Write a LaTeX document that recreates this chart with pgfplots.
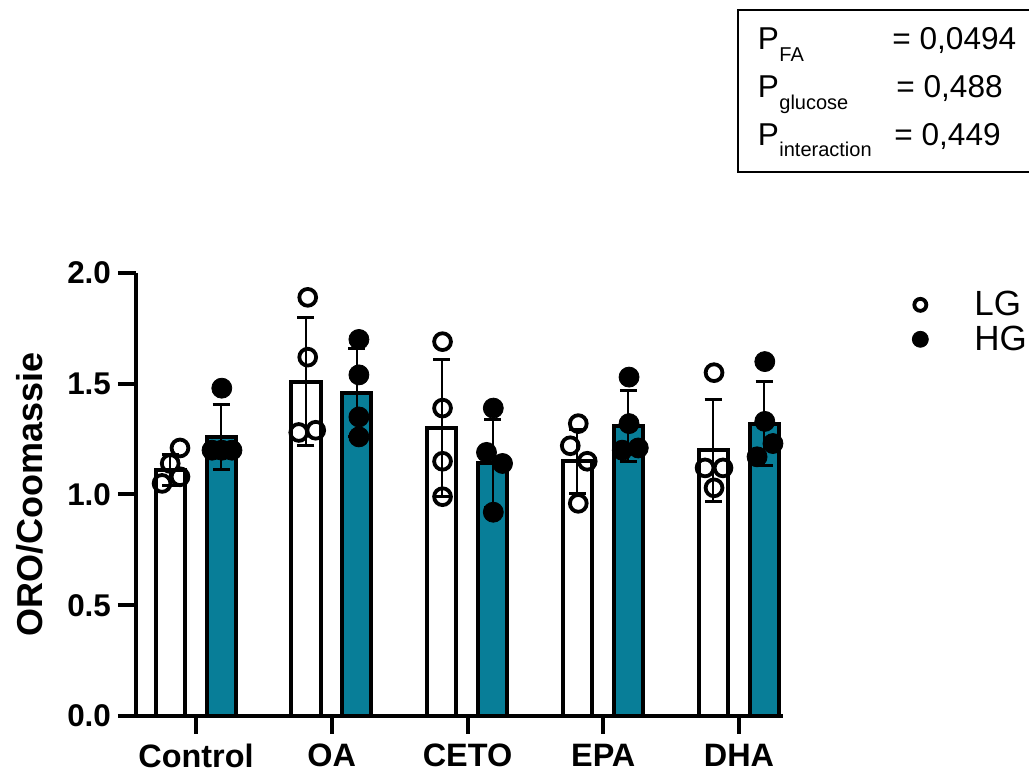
\documentclass[border=0pt]{standalone}
\usepackage{fontspec}
\setmainfont{Liberation Sans}
\usepackage{pgfplots}
\pgfplotsset{compat=1.18}
\definecolor{hgfill}{RGB}{8,126,152}
\begin{document}
\begin{tikzpicture}[x=1pt,y=1pt]
\useasboundingbox (0,0) rectangle (514.5,387);
\begin{axis}[
  at={(68pt,29pt)}, anchor=south west,
  scale only axis, width=323.5pt, height=221.5pt,
  xmin=-0.442, xmax=4.324, ymin=0, ymax=2,
  axis x line*=bottom, axis y line*=left,
  axis line style={line width=2pt},
  xtick={0,1,2,3,4}, xticklabels={Control,OA,CETO,EPA,DHA},
  ytick={0,0.5,1,1.5,2},
  yticklabel style={/pgf/number format/.cd,fixed,fixed zerofill,precision=1},
  /pgf/number format/assume math mode=true,
  tick align=outside, major tick length=9pt,
  tick style={line width=2pt, black},
  ticklabel style={font=\fontsize{15.7}{18}\selectfont\bfseries},
  xticklabel style={yshift=-1.5pt, font=\fontsize{16.2}{18}\selectfont\bfseries},
  ylabel={ORO/Coomassie},
  ylabel style={font=\fontsize{18}{20}\selectfont\bfseries, at={(axis description cs:-0.164,0.5)}, anchor=center},
  clip=false,
  legend style={draw=none, fill=none, at={(axis description cs:1.19,0.978)}, anchor=north west,
    font=\fontsize{17.5}{20}\selectfont, row sep=-0.5pt,
    /tikz/every odd column/.append style={column sep=21pt}},
  legend cell align=left,
]
% LG bars
\addplot[ybar, bar width=0.215, bar shift=0pt, fill=white, draw=black, line width=2pt, forget plot,
  error bars/.cd, y dir=both, y explicit,
  error bar style={line width=1pt, black},
  error mark options={rotate=90, mark size=4.25pt, line width=1.5pt, black}]
coordinates {
(-0.19,1.11) +- (0,0.07)
(0.81,1.51) +- (0,0.29)
(1.81,1.30) +- (0,0.31)
(2.81,1.15) +- (0,0.145)
(3.81,1.20) +- (0,0.23)
};
% HG bars
\addplot[ybar, bar width=0.215, bar shift=0pt, fill=hgfill, draw=black, line width=2pt, forget plot,
  error bars/.cd, y dir=both, y explicit,
  error bar style={line width=1pt, black},
  error mark options={rotate=90, mark size=4.25pt, line width=1.5pt, black}]
coordinates {
(0.185,1.26) +- (0,0.145)
(1.185,1.46) +- (0,0.20)
(2.185,1.14) +- (0,0.20)
(3.185,1.31) +- (0,0.16)
(4.185,1.32) +- (0,0.19)
};
% LG points
\addplot[only marks, mark=o, mark size=4.2pt, mark options={line width=1.9pt, draw=black},
  legend image post style={mark size=3pt, line width=1.8pt}]
coordinates {
(-0.118,1.21) (-0.19,1.14) (-0.25,1.05) (-0.118,1.08)
(0.823,1.89) (0.823,1.62) (0.757,1.28) (0.882,1.29)
(1.816,1.69) (1.816,1.39) (1.816,1.15) (1.816,0.99)
(2.816,1.32) (2.757,1.22) (2.882,1.15) (2.816,0.96)
(3.816,1.55) (3.75,1.12) (3.882,1.12) (3.816,1.03)
};
\addlegendentry{LG}
% HG points
\addplot[only marks, mark=*, mark size=5pt, mark options={draw=black, fill=black},
  legend image post style={mark size=4pt}]
coordinates {
(0.19,1.48) (0.118,1.20) (0.19,1.20) (0.265,1.20)
(1.2,1.70) (1.2,1.54) (1.2,1.35) (1.2,1.26)
(2.19,1.39) (2.14,1.19) (2.258,1.14) (2.19,0.92)
(3.19,1.53) (3.19,1.32) (3.14,1.20) (3.258,1.21)
(4.19,1.60) (4.19,1.33) (4.25,1.23) (4.133,1.17)
};
\addlegendentry{HG}
\end{axis}
% p-value box
\draw[line width=0.8pt] (369,382) rectangle (516,301);
\node[anchor=base west, inner sep=0, font=\fontsize{15.8}{18}\selectfont] at (378.75,362) {P};
\node[anchor=base west, inner sep=0, font=\fontsize{10}{12}\selectfont] at (389.5,356) {FA};
\node[anchor=base west, inner sep=0, font=\fontsize{15.8}{18}\selectfont] at (446,362) {= 0,0494};
\node[anchor=base west, inner sep=0, font=\fontsize{15.8}{18}\selectfont] at (378.75,338) {P};
\node[anchor=base west, inner sep=0, font=\fontsize{10}{12}\selectfont] at (389.5,332) {glucose};
\node[anchor=base west, inner sep=0, font=\fontsize{15.8}{18}\selectfont] at (448,338) {= 0,488};
\node[anchor=base west, inner sep=0, font=\fontsize{15.8}{18}\selectfont] at (378.75,314) {P};
\node[anchor=base west, inner sep=0, font=\fontsize{10}{12}\selectfont] at (389.5,308.5) {interaction};
\node[anchor=base west, inner sep=0, font=\fontsize{15.8}{18}\selectfont] at (447,314) {= 0,449};
\end{tikzpicture}
\end{document}
